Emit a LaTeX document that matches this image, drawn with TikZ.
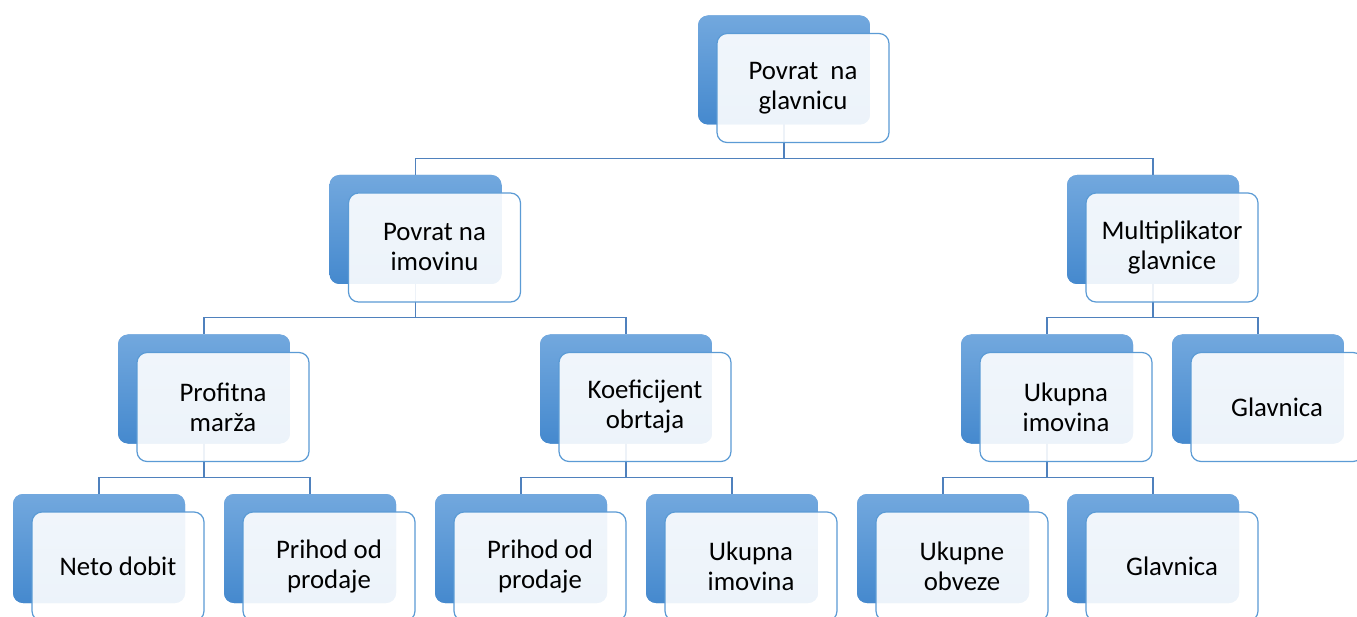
\documentclass[tikz,border=0pt]{standalone}
\usepackage{fontspec}
\setmainfont{Carlito}
\usetikzlibrary{calc}
\definecolor{backtop}{HTML}{72A8DE}
\definecolor{backbot}{HTML}{4589CE}
\definecolor{frontline}{HTML}{5B9BD5}
\definecolor{connline}{HTML}{4F81BD}
\tikzset{
  backbox/.style={rectangle, rounded corners=10pt, minimum width=172pt, minimum height=109pt,
    inner sep=0pt, top color=backtop, bottom color=backbot, draw=none},
  frontbox/.style={rectangle, rounded corners=10pt, minimum width=172pt, minimum height=109pt,
    inner sep=0pt, fill=white, fill opacity=0.9, text opacity=1, draw=frontline, draw opacity=1,
    line width=1.2pt, align=center, text=black, font=\fontsize{26.8}{30}\selectfont},
  conn/.style={draw=connline, line width=1.2pt},
}
\begin{document}
\begin{tikzpicture}[x=1pt,y=-1pt]
\clip (0,0) rectangle (1357,617);
\fill[white] (0,0) rectangle (1357,617);
% coordinates of back boxes
\coordinate (pT) at (784,70);
\coordinate (pA) at (415.5,229.5);
\coordinate (pB) at (1153,229.5);
\coordinate (pC) at (204,389);
\coordinate (pD) at (626,389);
\coordinate (pE) at (1047,389);
\coordinate (pF) at (1258,389);
\coordinate (pG) at (99,548.5);
\coordinate (pH) at (310,548.5);
\coordinate (pI) at (521,548.5);
\coordinate (pJ) at (732,548.5);
\coordinate (pK) at (943,548.5);
\coordinate (pL) at (1153,548.5);
% back boxes
\foreach \n in {T,A,B,C,D,E,F,G,H,I,J,K,L}{
  \node[backbox] (b\n) at (p\n) {};
}
% connectors
\foreach \p/\c in {T/A,T/B,A/C,A/D,B/E,B/F,C/G,C/H,D/I,D/J,E/K,E/L}{
  \draw[conn] (b\p.center) |- ($(b\p.south)+(0,33.5)$) -| (b\c.north);
}
% redraw back boxes over connectors
\foreach \n in {T,A,B,C,D,E,F,G,H,I,J,K,L}{
  \node[backbox] at (p\n) {};
}
% front boxes
\node[frontbox] (fT) at ($(pT)+(19,18)$) {Povrat\ \ na\\glavnicu};
\node[frontbox] (fA) at ($(pA)+(19,18)$) {Povrat na\\imovinu};
\node[frontbox] (fB) at ($(pB)+(19,18)$) {Multiplikator\\glavnice};
\node[frontbox] (fC) at ($(pC)+(19,18)$) {Profitna\\marža};
\node[frontbox] (fD) at ($(pD)+(19,18)$) {Koeficijent\\obrtaja};
\node[frontbox] (fE) at ($(pE)+(19,18)$) {Ukupna\\imovina};
\node[frontbox] (fF) at ($(pF)+(19,18)$) {Glavnica};
\node[frontbox] (fG) at ($(pG)+(19,18)$) {Neto dobit};
\node[frontbox] (fH) at ($(pH)+(19,18)$) {Prihod od\\prodaje};
\node[frontbox] (fI) at ($(pI)+(19,18)$) {Prihod od\\prodaje};
\node[frontbox] (fJ) at ($(pJ)+(19,18)$) {Ukupna\\imovina};
\node[frontbox] (fK) at ($(pK)+(19,18)$) {Ukupne\\obveze};
\node[frontbox] (fL) at ($(pL)+(19,18)$) {Glavnica};
\end{tikzpicture}
\end{document}
